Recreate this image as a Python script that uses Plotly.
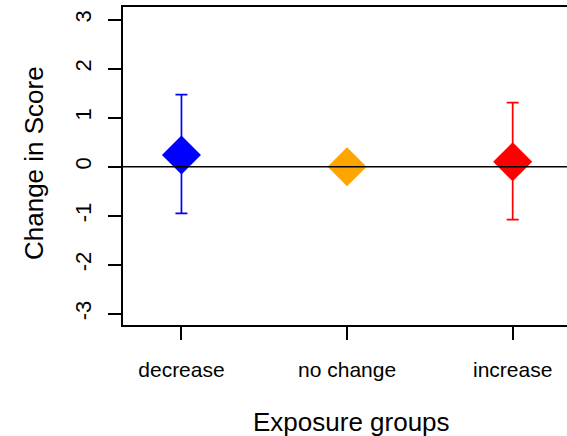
import plotly.graph_objects as go

# Mean change in score per exposure group, with interval limits
groups = ["decrease", "no change", "increase"]
means = [0.24, 0.0, 0.10]
upper = [1.47, 0.0, 1.31]
lower = [-0.95, 0.0, -1.08]
colors = ["#0000FF", "#FFA500", "#FF0000"]
y_ticks = [-3, -2, -1, 0, 1, 2, 3]

W, H = 567, 436
M_L, M_R, M_T, M_B = 123, 0, 7, 111
FONT = "Liberation Sans, Arial, sans-serif"

fig = go.Figure()
for g, m, hi, lo, c in zip(groups, means, upper, lower, colors):
    has_err = hi != m or lo != m
    fig.add_trace(go.Scatter(
        x=[g], y=[m], mode="markers",
        marker=dict(symbol="diamond", size=30, color=c, line=dict(width=0)),
        error_y=dict(type="data", symmetric=False,
                     array=[hi - m], arrayminus=[m - lo],
                     color=c, thickness=1.7, width=6, visible=has_err),
        showlegend=False, hoverinfo="skip",
    ))

# horizontal reference line at zero, drawn over the markers
fig.add_shape(type="line", xref="paper", x0=0, x1=1, yref="y", y0=0, y1=0,
              line=dict(color="black", width=1.6), layer="above")

plot_w = W - M_L - M_R
plot_h = H - M_T - M_B

fig.update_layout(
    width=W, height=H,
    margin=dict(l=M_L, r=M_R, t=M_T, b=M_B, pad=0),
    plot_bgcolor="white", paper_bgcolor="white",
    font=dict(family=FONT, color="black"),
    xaxis=dict(
        type="category", categoryorder="array", categoryarray=groups,
        range=[-0.353, 2.328],
        showgrid=False, zeroline=False,
        showline=True, linecolor="black", linewidth=1.6, mirror=True,
        ticks="outside", ticklen=13, tickwidth=1.6, tickcolor="black",
        tickfont=dict(size=21, family=FONT, color="black"),
        ticklabelstandoff=12,
    ),
    yaxis=dict(
        range=[-3.23, 3.26],
        tickvals=y_ticks, ticktext=[str(v) for v in y_ticks],
        tickangle=-90,
        showgrid=False, zeroline=False,
        showline=True, linecolor="black", linewidth=1.6,
        ticks="outside", ticklen=13, tickwidth=1.6, tickcolor="black",
        tickfont=dict(size=22, family=FONT, color="black"),
        ticklabelstandoff=8,
    ),
    annotations=[
        dict(text="Exposure groups", xref="paper", yref="paper",
             x=(351.7 - M_L) / plot_w, y=-(422 - (M_T + plot_h)) / plot_h,
             xanchor="center", yanchor="middle", showarrow=False,
             font=dict(size=26, family=FONT, color="black")),
        dict(text="Change in Score", xref="paper", yref="paper",
             x=(34 - M_L) / plot_w, y=((M_T + plot_h) - 163) / plot_h,
             xanchor="center", yanchor="middle", textangle=-90, showarrow=False,
             font=dict(size=26, family=FONT, color="black")),
    ],
)

fig.write_html("out.html")
